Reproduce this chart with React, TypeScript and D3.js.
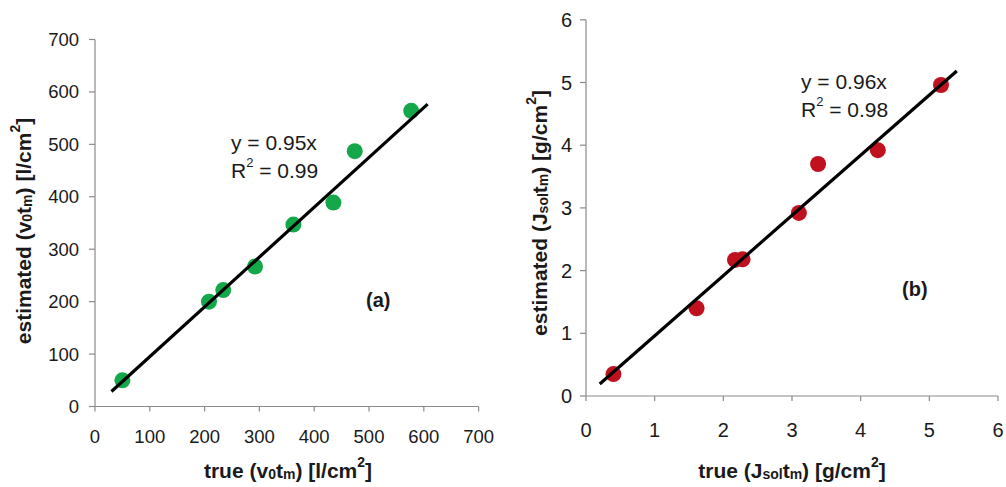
import React from 'react';
import * as d3 from 'd3';

// Panel (a)
const aTrue = [50, 208, 234, 292, 362, 435, 474, 577];
const aEst = [50, 200, 222, 267, 347, 389, 487, 564];
const aTicks = [0, 100, 200, 300, 400, 500, 600, 700];
const aSlope = 0.95;
const aFitX = [30, 607];
const aEq = 'y = 0.95x';
const aR2 = '0.99';

// Panel (b)
const bTrue = [0.4, 1.61, 2.17, 2.28, 3.1, 3.38, 4.25, 5.17];
const bEst = [0.35, 1.4, 2.17, 2.18, 2.92, 3.7, 3.92, 4.96];
const bTicks = [0, 1, 2, 3, 4, 5, 6];
const bSlope = 0.96;
const bFitX = [0.2, 5.4];
const bEq = 'y = 0.96x';
const bR2 = '0.98';

const FONT = '"Liberation Sans", Arial, Helvetica, sans-serif';
const AXIS = '#8a8a8a';
const TXT = '#1a1a1a';

type PanelProps = {
  xs: number[]; ys: number[]; ticks: number[]; slope: number; fitX: number[];
  x0: number; x1: number; y0: number; y1: number;
  color: string; eq: string; r2: string;
  eqX: number; eqY: number; tag: string; tagX: number; tagY: number;
  xLabY: number; xTitleX: number; xTitleY: number; yTitleX: number; yTitleY: number;
  yLabX: number; tickFs: number; titleFs: number;
  xTitle: React.ReactNode; yTitle: React.ReactNode;
};

function Panel(p: PanelProps) {
  const dom = [p.ticks[0], p.ticks[p.ticks.length - 1]];
  const x = d3.scaleLinear().domain(dom).range([p.x0, p.x1]);
  const y = d3.scaleLinear().domain(dom).range([p.y0, p.y1]);
  const line = d3.line<number>().x((d) => x(d)).y((d) => y(d * p.slope));
  return (
    <g fontFamily={FONT}>
      <line x1={p.x0} x2={p.x1} y1={p.y0} y2={p.y0} stroke={AXIS} strokeWidth={1.2} />
      <line x1={p.x0} x2={p.x0} y1={p.y0} y2={p.y1} stroke={AXIS} strokeWidth={1.2} />
      {p.ticks.map((t) => (
        <g key={'x' + t}>
          <line x1={x(t)} x2={x(t)} y1={p.y0} y2={p.y0 + 5} stroke={AXIS} strokeWidth={1.2} />
          <text x={x(t)} y={p.xLabY} textAnchor="middle" dominantBaseline="central" fontSize={p.tickFs} fill={TXT}>{t}</text>
        </g>
      ))}
      {p.ticks.map((t) => (
        <g key={'y' + t}>
          <line x1={p.x0 - 6} x2={p.x0} y1={y(t)} y2={y(t)} stroke={AXIS} strokeWidth={1.2} />
          <text x={p.yLabX} y={y(t)} textAnchor="end" dominantBaseline="central" fontSize={p.tickFs} fill={TXT}>{t}</text>
        </g>
      ))}
      {p.xs.map((v, i) => (
        <circle key={i} cx={x(v)} cy={y(p.ys[i])} r={8} fill={p.color} />
      ))}
      <path d={line(p.fitX) || ''} stroke="#000" strokeWidth={3.2} fill="none" />
      <text x={p.eqX} y={p.eqY} fontSize={21} fill={TXT} dominantBaseline="central">{p.eq}</text>
      <text x={p.eqX} y={p.eqY + 28} fontSize={21} fill={TXT} dominantBaseline="central">
        R<tspan fontSize={13} dy={-8}>2</tspan><tspan dy={8}>{' = ' + p.r2}</tspan>
      </text>
      <text x={p.tagX} y={p.tagY} fontSize={20} fontWeight="bold" fill={TXT} dominantBaseline="central">{p.tag}</text>
      <text x={p.xTitleX} y={p.xTitleY} textAnchor="middle" dominantBaseline="central" fontSize={p.titleFs} fontWeight="bold" fill={TXT}>{p.xTitle}</text>
      <text transform={`translate(${p.yTitleX},${p.yTitleY}) rotate(-90)`} textAnchor="middle" dominantBaseline="central" fontSize={p.titleFs} fontWeight="bold" fill={TXT}>{p.yTitle}</text>
    </g>
  );
}

const sub = (s: string) => (
  <tspan fontSize={14} dy={4}>{s}</tspan>
);
const tail = (unit: string) => (
  <>
    <tspan dy={-4}>{') [' + unit}</tspan>
    <tspan fontSize={14} dy={-8}>2</tspan>
    <tspan dy={8}>]</tspan>
  </>
);

export default function App() {
  return (
    <svg width={1006} height={487} style={{ position: 'absolute', left: 0, top: 0, background: '#fff' }}>
      <rect width={1006} height={487} fill="#fff" />
      <Panel
        xs={aTrue} ys={aEst} ticks={aTicks} slope={aSlope} fitX={aFitX}
        x0={95} x1={478.6} y0={406.5} y1={39.5}
        color="#14a84a" eq={aEq} r2={aR2} eqX={231} eqY={142}
        tag="(a)" tagX={366} tagY={300}
        xLabY={436} xTitleX={288} xTitleY={470} yTitleX={23} yTitleY={231} yLabX={79}
        tickFs={18.5} titleFs={21}
        xTitle={<>true (v{sub('0')}<tspan dy={-4}>t</tspan>{sub('m')}{tail('l/cm')}</>}
        yTitle={<>estimated (v{sub('0')}<tspan dy={-4}>t</tspan>{sub('m')}{tail('l/cm')}</>}
      />
      <Panel
        xs={bTrue} ys={bEst} ticks={bTicks} slope={bSlope} fitX={bFitX}
        x0={586} x1={998} y0={396} y1={19.8}
        color="#c0111f" eq={bEq} r2={bR2} eqX={801} eqY={81}
        tag="(b)" tagX={902} tagY={289}
        xLabY={430} xTitleX={792} xTitleY={470} yTitleX={539} yTitleY={213} yLabX={572}
        tickFs={20} titleFs={21}
        xTitle={<>true (J{sub('sol')}<tspan dy={-4}>t</tspan>{sub('m')}{tail('g/cm')}</>}
        yTitle={<>estimated (J{sub('sol')}<tspan dy={-4}>t</tspan>{sub('m')}{tail('g/cm')}</>}
      />
    </svg>
  );
}
